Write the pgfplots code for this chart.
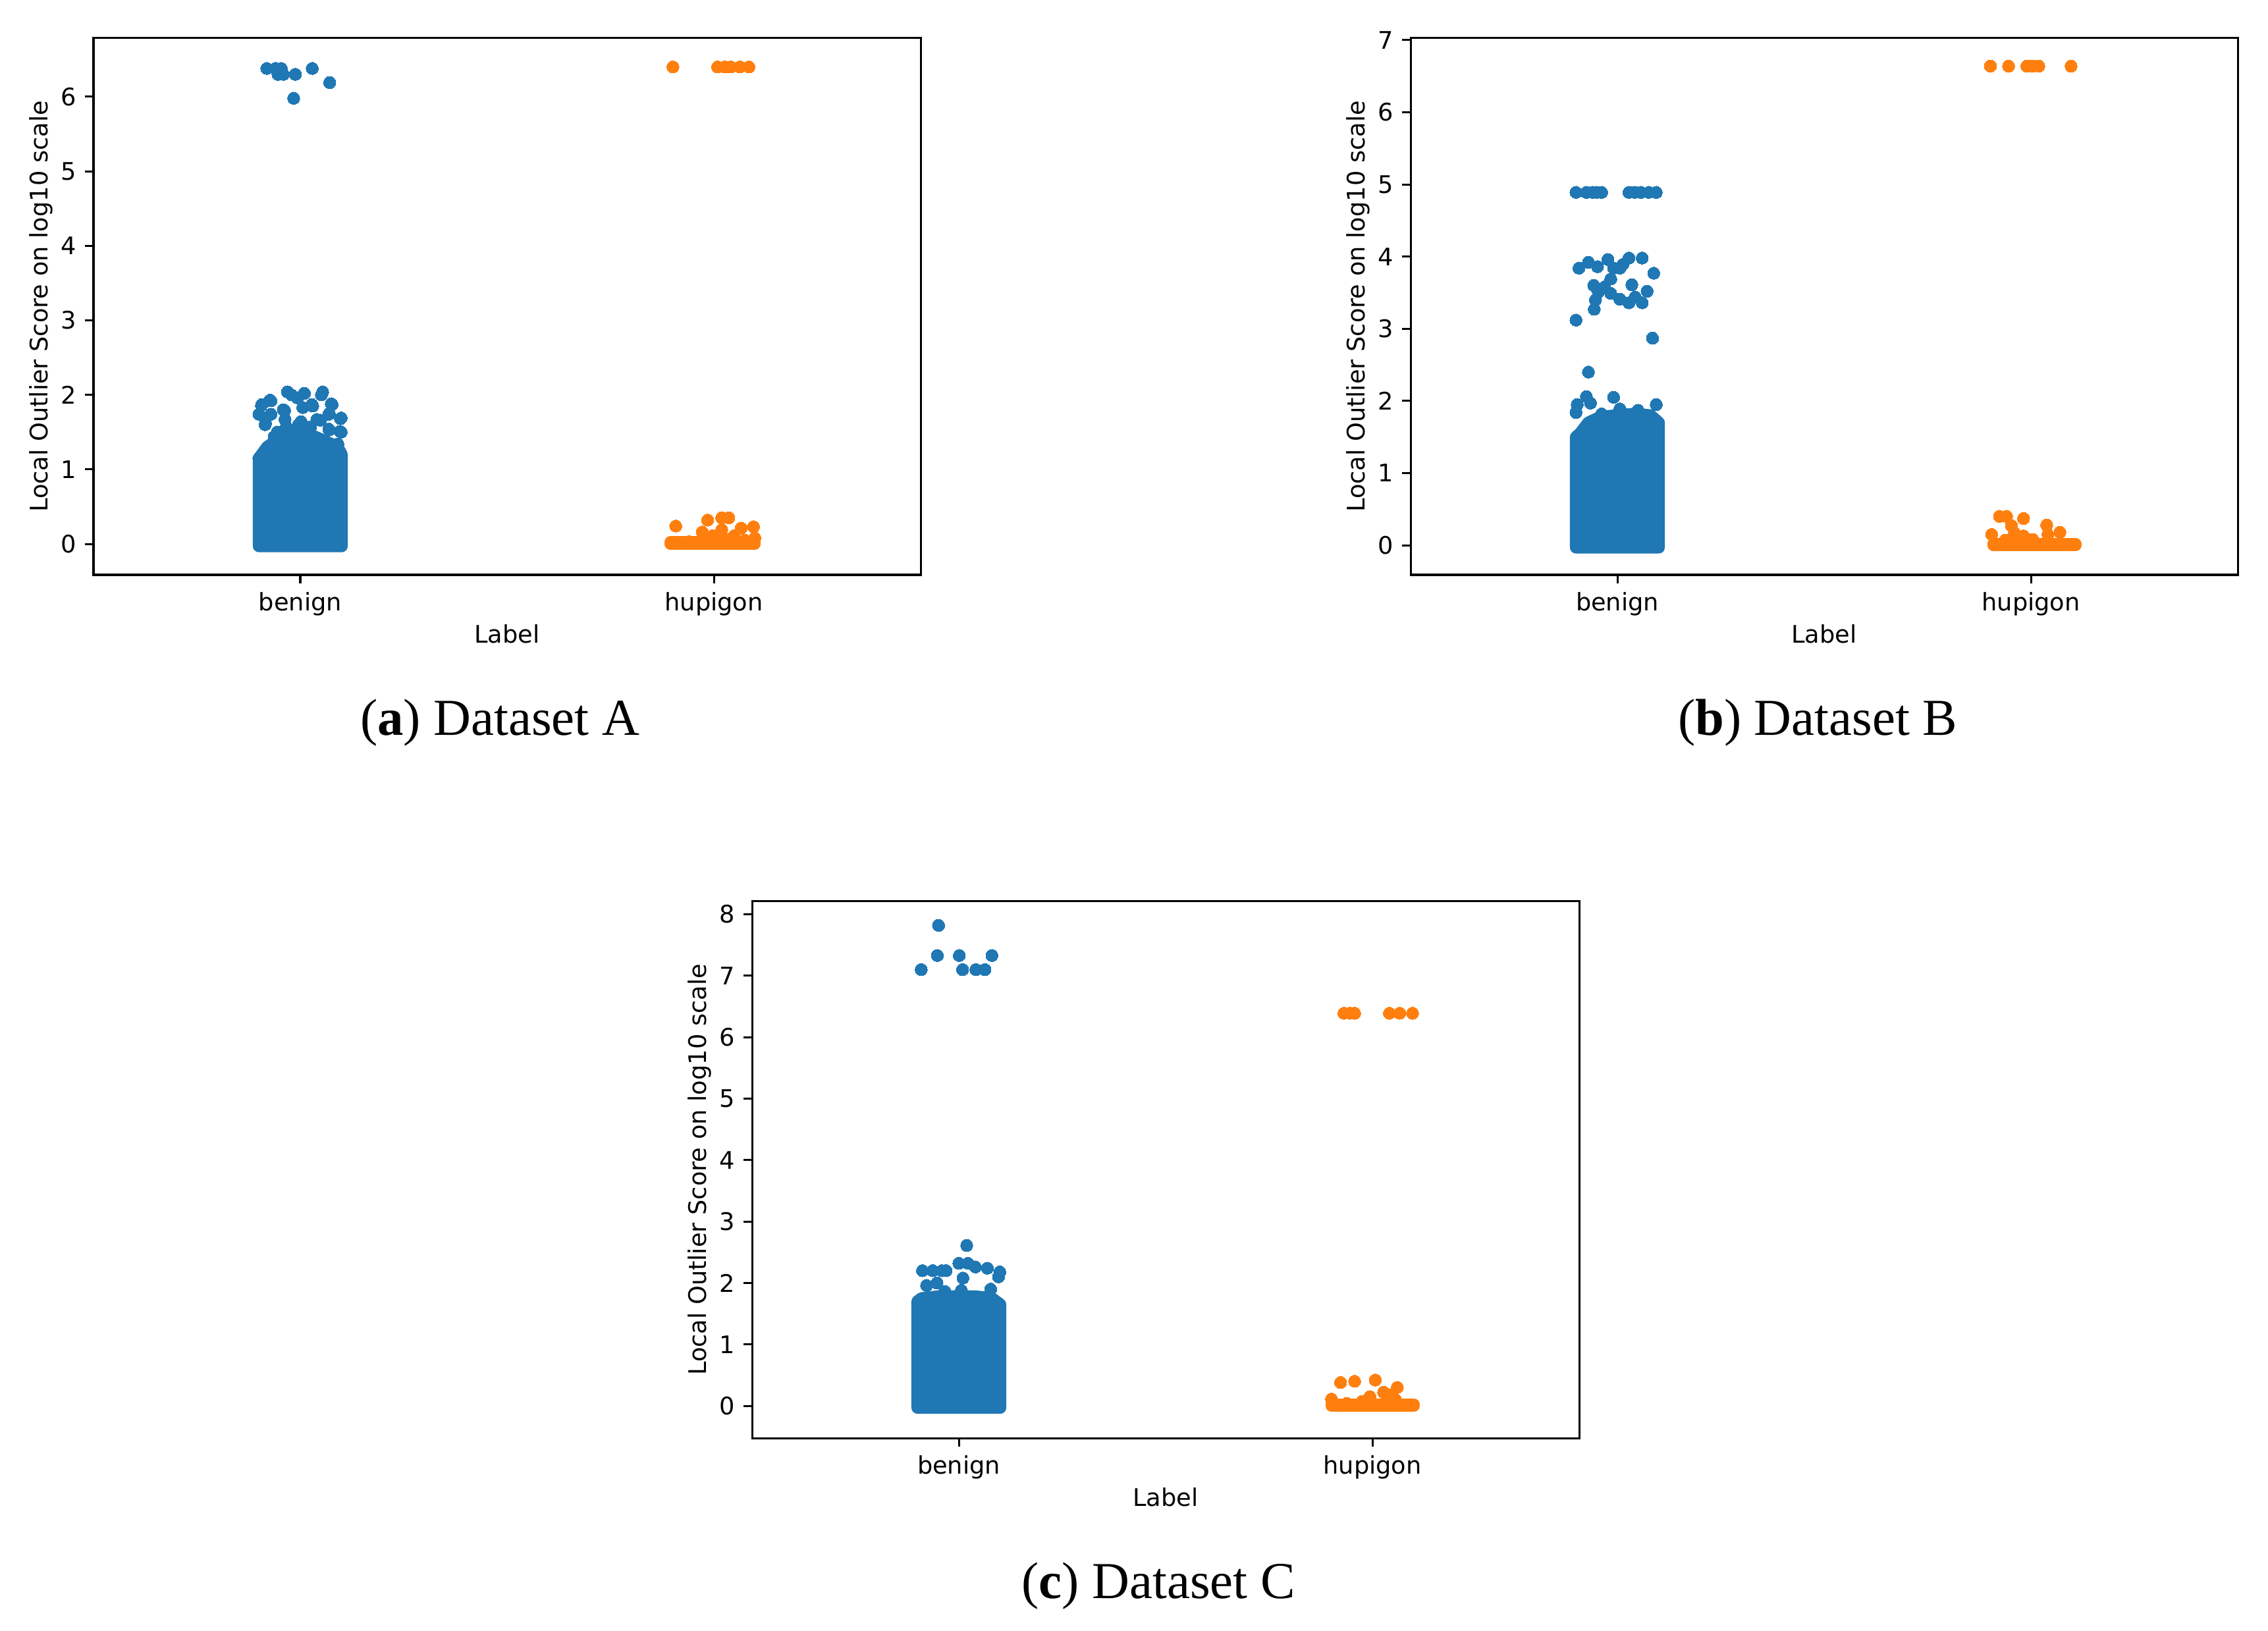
\documentclass[border=0pt]{standalone}
\usepackage{pgfplots}
\pgfplotsset{compat=1.18}
\usepackage{fontspec}
\setmainfont{DejaVu Sans}
\newfontfamily\capfont{Liberation Serif}

\definecolor{tabblue}{RGB}{31,119,180}
\definecolor{taborange}{RGB}{255,127,14}

\pgfplotsset{
  strip/.style={
    scale only axis,
    width=358.86pt, height=232.86pt,
    anchor=south west,
    xmin=-0.5, xmax=1.5,
    xtick={0,1}, xticklabels={benign,hupigon},
    tick align=outside, xtick pos=bottom, ytick pos=left,
    major tick length=3.7pt,
    every tick/.style={black, line width=0.86pt},
    axis line style={line width=0.86pt},
    tick label style={font=\fontsize{10.5}{12}\selectfont, inner sep=0pt},
    xticklabel style={yshift=-3.7pt},
    yticklabel style={xshift=-3.5pt},
    /pgf/number format/assume math mode=true,
    label style={font=\fontsize{10.5}{12}\selectfont, inner sep=0pt},
    xlabel={Label},
    ylabel={Local Outlier Score on log10 scale},
    xlabel style={at={(axis description cs:0.5,-0.1275)}, anchor=base},
    ylabel style={at={(axis description cs:-0.0488,0.5)}, anchor=south},
  },
  block/.style={fill=#1, draw=#1, line width=5.3pt, line join=round},
  dots/.style={only marks, mark=*, mark size=2.65pt,
    mark options={fill=#1, draw=#1, line width=0pt}},
}

\begin{document}
\begin{tikzpicture}
\useasboundingbox (0,0) rectangle (984pt,707.43pt);

% (a) Dataset A
\begin{axis}[strip, at={(40.57pt,458.0pt)}, ymin=-0.415, ymax=6.786, ytick={0,1,...,6}]
\addplot[block=tabblue] coordinates {(-0.1,-0.03) (0.1,-0.03) (0.1,1.2) (0.09,1.3) (0.06,1.38) (0.03,1.45) (0,1.5) (-0.03,1.5) (-0.06,1.38) (-0.08,1.3) (-0.1,1.15)} -- cycle;
\addplot[dots=tabblue] coordinates {
(-0.081,6.38) (-0.060,6.38) (-0.046,6.38) (-0.054,6.30) (-0.041,6.30) (-0.012,6.30) (0.029,6.38) (0.071,6.19) (-0.016,5.98)
(-0.031,2.04) (0.010,2.02) (0.054,2.04) (-0.007,1.96) (0.028,1.87) (-0.093,1.87) (-0.071,1.92) (0.077,1.87)
(-0.100,1.74) (-0.071,1.74) (-0.041,1.80) (0.006,1.83) (0.099,1.69) (0.069,1.74) (-0.085,1.60) (0.040,1.67)
(-0.004,1.60) (-0.056,1.50) (0.069,1.54) (0.099,1.50) (-0.034,1.57) (0.025,1.57) (0.091,1.34) (-0.063,1.44) (-0.100,1.15)
(-0.073,1.93) (-0.094,1.86) (-0.084,1.62) (-0.038,1.79) (0.030,1.85) (0.075,1.88) (0.070,1.75) (0.097,1.68)
(0.070,1.53) (0.096,1.51) (0.051,2.00) (-0.021,2.00) (0.049,1.66) (0.002,1.64) (-0.037,1.67)
};
\addplot[block=taborange] coordinates {(0.895,0) (1.099,0) (1.099,0.02) (0.895,0.02)} -- cycle;
\addplot[dots=taborange] coordinates {
(0.901,6.40) (1.009,6.40) (1.026,6.40) (1.041,6.40) (1.063,6.40) (1.085,6.40)
(0.908,0.24) (0.985,0.32) (1.019,0.35) (1.036,0.35) (0.972,0.16) (1.019,0.19) (1.066,0.21) (1.096,0.23)
(1.099,0.08) (1.049,0.11) (0.997,0.11) (0.940,0.03) (1.030,0.06) (1.075,0.05)
};
\end{axis}

% (b) Dataset B
\begin{axis}[strip, at={(612.0pt,458.0pt)}, ymin=-0.41, ymax=7.027, ytick={0,1,...,7}]
\addplot[block=tabblue] coordinates {(-0.1,-0.03) (0.1,-0.03) (0.1,1.7) (0.08,1.8) (0.04,1.82) (0,1.8) (-0.04,1.78) (-0.07,1.7) (-0.09,1.55) (-0.1,1.5)} -- cycle;
\addplot[dots=tabblue] coordinates {
(-0.100,4.89) (-0.075,4.89) (-0.060,4.89) (-0.050,4.89) (-0.038,4.89) (0.028,4.89) (0.042,4.89) (0.057,4.89) (0.076,4.89) (0.094,4.89)
(-0.093,3.84) (-0.070,3.92) (-0.048,3.86) (-0.023,3.96) (0.006,3.84) (0.028,3.98) (0.060,3.98) (0.088,3.77)
(-0.057,3.60) (-0.016,3.69) (-0.046,3.51) (-0.031,3.58) (-0.053,3.40) (-0.016,3.49) (0.006,3.41) (0.028,3.36)
(0.035,3.61) (0.043,3.44) (0.060,3.36) (0.072,3.52) (-0.056,3.27) (-0.100,3.12) (0.085,2.87) (-0.070,2.40)
(-0.009,3.84) (0.013,3.89)
(-0.075,2.06) (-0.009,2.05) (-0.097,1.95) (-0.065,1.97) (0.094,1.95) (-0.100,1.84) (-0.038,1.82) (0.006,1.89) (0.050,1.87)
};
\addplot[block=taborange] coordinates {(0.909,0) (1.107,0) (1.107,0.02) (0.909,0.02)} -- cycle;
\addplot[dots=taborange] coordinates {
(0.902,6.64) (0.946,6.64) (0.990,6.64) (1.004,6.64) (1.019,6.64) (1.097,6.64)
(0.924,0.40) (0.941,0.40) (0.982,0.37) (1.038,0.28) (1.070,0.18) (0.905,0.15) (0.953,0.27) (0.960,0.17)
(0.982,0.13) (1.041,0.15) (0.938,0.07) (1.004,0.08)
};
\end{axis}

% (c) Dataset C
\begin{axis}[strip, at={(326.29pt,83.43pt)}, ymin=-0.525, ymax=8.21, ytick={0,1,...,8}]
\addplot[block=tabblue] coordinates {(-0.1,-0.03) (0.1,-0.03) (0.1,1.65) (0.08,1.75) (0.04,1.78) (0,1.78) (-0.05,1.78) (-0.09,1.75) (-0.1,1.7)} -- cycle;
\addplot[dots=tabblue] coordinates {
(-0.049,7.82) (-0.091,7.10) (-0.052,7.33) (0.001,7.33) (0.080,7.33) (0.009,7.10) (0.041,7.10) (0.063,7.10)
(0.019,2.61) (-0.088,2.20) (-0.063,2.20) (-0.041,2.20) (-0.031,2.20) (0.000,2.32) (0.022,2.32) (0.040,2.26)
(0.069,2.24) (0.099,2.18) (0.096,2.10) (0.010,2.08) (-0.053,2.00) (-0.078,1.96) (0.077,1.90) (-0.034,1.86) (0.006,1.88)
};
\addplot[block=taborange] coordinates {(0.901,0) (1.100,0) (1.100,0.02) (0.901,0.02)} -- cycle;
\addplot[dots=taborange] coordinates {
(0.931,6.39) (0.946,6.39) (0.957,6.39) (1.041,6.39) (1.066,6.39) (1.097,6.39)
(0.923,0.38) (0.957,0.40) (1.007,0.42) (1.060,0.30) (0.901,0.11) (0.994,0.15) (1.027,0.22) (1.041,0.18)
(0.975,0.07) (1.056,0.10) (0.938,0.04)
};
\end{axis}

\node[anchor=base, font=\capfont\fontsize{22.5}{27}\selectfont] at (216.9pt,388.3pt) {(\textbf{a}) Dataset A};
\node[anchor=base, font=\capfont\fontsize{22.5}{27}\selectfont] at (788.6pt,388.3pt) {(\textbf{b}) Dataset B};
\node[anchor=base, font=\capfont\fontsize{22.5}{27}\selectfont] at (502.6pt,14.0pt) {(\textbf{c}) Dataset C};
\end{tikzpicture}
\end{document}
